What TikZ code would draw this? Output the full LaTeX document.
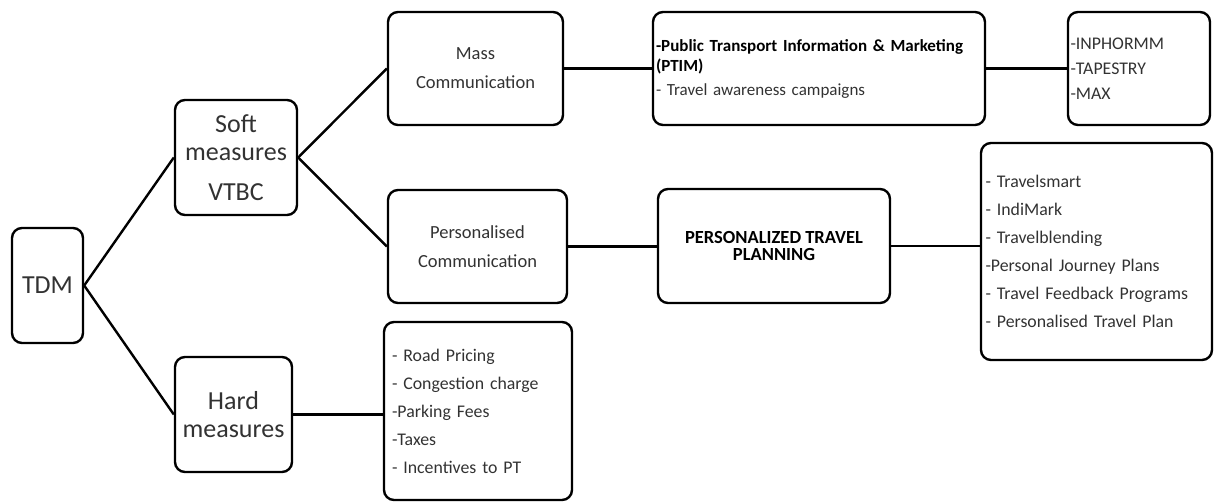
\documentclass[tikz,border=0pt]{standalone}
\usepackage{fontspec}
\setmainfont{Carlito}
\usepackage{tikz}
\usetikzlibrary{positioning, calc}
\definecolor{mytext}{RGB}{50,50,50}
\tikzset{
  bigbox/.style={rectangle, draw=black, rounded corners=10pt, line width=2.4pt,
    align=center, inner sep=0pt, text=mytext,
    font=\fontsize{26}{28}\selectfont},
  midbox/.style={rectangle, draw=black, rounded corners=10pt, line width=2.4pt,
    align=center, inner sep=0pt, text=mytext,
    font=\fontsize{18.5}{29}\selectfont},
  listbox/.style={rectangle, draw=black, rounded corners=10pt, line width=2.4pt,
    align=left, inner sep=0pt, text=mytext,
    font=\fontsize{17.8}{28}\selectfont},
  link/.style={line width=2.4pt, color=black}
}
\begin{document}
\begin{tikzpicture}[x=1pt, y=-1pt]
  \useasboundingbox (0,0) rectangle (1218,503);
  % Root and first level
  \node[bigbox, minimum width=71pt, minimum height=115pt] (tdm) at (47.5,285.5) {TDM};
  \node[bigbox, minimum width=122pt, minimum height=115pt] (soft) at (236,157.5)
    {Soft\\measures\\[12pt]VTBC};
  \node[bigbox, minimum width=117pt, minimum height=115pt] (hard) at (233.5,414.5)
    {Hard\\measures};
  % Communication types
  \node[midbox, minimum width=175pt, minimum height=113pt] (mass) at (475.5,68.5)
    {Mass\\Communication};
  \node[midbox, minimum width=179pt, minimum height=113pt] (pers) at (477.5,246.5)
    {Personalised\\Communication};
  % Programmes
  \node[listbox, minimum width=332pt, minimum height=113pt, text width=326pt,
    font=\fontsize{17}{20}\selectfont] (ptim) at (819,68.5)
    {\textcolor{black}{\textbf{-Public Transport Information \& Marketing}}\\
     \textcolor{black}{\textbf{(PTIM)}}\\[4pt]
     - Travel awareness campaigns};
  \node[listbox, minimum width=142pt, minimum height=113pt, text width=137pt,
    font=\fontsize{17.8}{25}\selectfont] (inph) at (1139,68.5)
    {-INPHORMM\\-TAPESTRY\\-MAX};
  \node[midbox, minimum width=232pt, minimum height=114pt, text=black,
    font=\fontsize{18.5}{17}\selectfont\bfseries] (ptp) at (774,246)
    {PERSONALIZED TRAVEL\\PLANNING};
  % Examples
  \node[listbox, minimum width=231pt, minimum height=217pt, text width=222pt] (tlist) at (1096.5,251.5)
    {- Travelsmart\\- IndiMark\\- Travelblending\\-Personal Journey Plans\\
     - Travel Feedback Programs\\- Personalised Travel Plan};
  \node[listbox, minimum width=188pt, minimum height=178pt, text width=172pt] (hlist) at (478,411)
    {- Road Pricing\\- Congestion charge\\-Parking Fees\\-Taxes\\- Incentives to PT};
  % Connectors
  \draw[link] (tdm.east) -- (soft.west);
  \draw[link] (tdm.east) -- (hard.west);
  \draw[link] (soft.east) -- (mass.west);
  \draw[link] (soft.east) -- (pers.west);
  \draw[link] (mass.east) -- (ptim.west);
  \draw[link] (ptim.east) -- (inph.west);
  \draw[link] (pers.east) -- (pers.east -| ptp.west);
  \draw[link] (ptp.east) -- (ptp.east -| tlist.west);
  \draw[link] (hard.east) -- (hard.east -| hlist.west);
\end{tikzpicture}
\end{document}
